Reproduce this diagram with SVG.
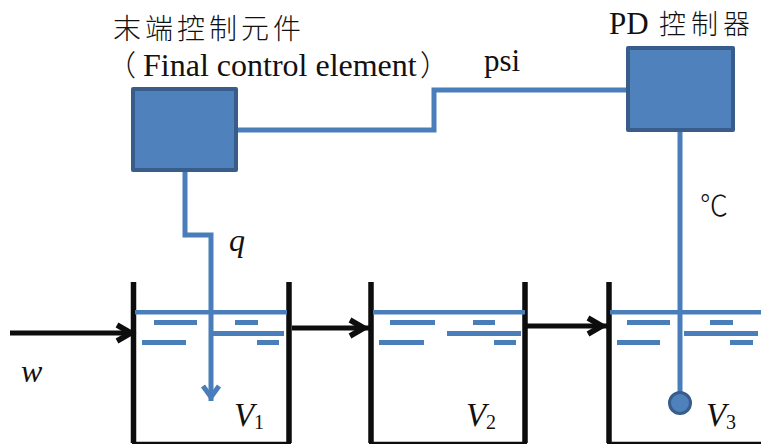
<svg xmlns="http://www.w3.org/2000/svg" width="761" height="444" viewBox="0 0 761 444">
<style>
.t{font-family:"Liberation Serif","Noto Sans CJK TC",serif;fill:#111}
.c{font-family:"Noto Sans CJK TC","Liberation Serif",sans-serif;fill:#111;font-weight:300}
.i{font-style:italic}
.box{fill:#4f81bd;stroke:#385d8a;stroke-width:4;stroke-linejoin:round}
.wire{fill:none;stroke:#4a7ebb;stroke-width:5}
.wall{fill:none;stroke:#0d0d0d;stroke-width:5.5}
.floor{fill:none;stroke:#0d0d0d;stroke-width:2.5}
.flow{fill:none;stroke:#0d0d0d;stroke-width:5}
.w{fill:#4a7ebb}
</style>
<defs>
<marker id="ah" markerUnits="userSpaceOnUse" markerWidth="28" markerHeight="28" refX="22" refY="14" orient="auto"><path d="M3 6 L17 14 L3 22" fill="none" stroke="#0d0d0d" stroke-width="5.5"/></marker>
<marker id="ab" markerUnits="userSpaceOnUse" markerWidth="28" markerHeight="28" refX="19" refY="14" orient="auto"><path d="M4 6 L15 14 L4 22" fill="none" stroke="#4a7ebb" stroke-width="5"/></marker>
</defs>
<g id="tank1">
<path class="wall" d="M133.500 282V443M289 282V443"/><path class="floor" d="M132 443H291"/>
<g class="w"><rect x="135" y="310" width="152" height="4.500"/><rect x="154" y="320" width="43" height="5"/><rect x="235" y="320" width="23" height="5"/><rect x="213" y="331" width="71" height="5"/><rect x="142" y="340" width="44" height="5"/><rect x="257" y="340" width="22" height="5"/></g>
<text class="t i" x="234" y="426" font-size="33">V</text><text class="t" x="254" y="429" font-size="20">1</text>
</g>
<g id="tank2">
<path class="wall" d="M371 282V443M525 282V443"/><path class="floor" d="M369 443H527"/>
<g class="w"><rect x="373" y="310" width="152" height="4.500"/><rect x="390" y="320" width="45" height="5"/><rect x="473" y="320" width="22" height="5"/><rect x="447" y="331" width="74" height="5"/><rect x="379" y="340" width="45" height="5"/><rect x="494" y="340" width="22" height="5"/></g>
<text class="t i" x="466" y="426" font-size="33">V</text><text class="t" x="486" y="429" font-size="20">2</text>
</g>
<g id="tank3">
<path class="wall" d="M609 282V443"/><path class="floor" d="M607 443H761"/>
<g class="w"><rect x="610" y="310" width="151" height="4.500"/><rect x="627" y="320" width="43" height="5"/><rect x="710" y="320" width="23" height="5"/><rect x="684" y="331" width="74" height="5"/><rect x="617" y="340" width="43" height="5"/><rect x="730" y="340" width="23" height="5"/></g>
<text class="t i" x="706" y="426" font-size="33">V</text><text class="t" x="726" y="429" font-size="20">3</text>
</g>
<g id="connectors">
<path class="wire" d="M237 130H434V90H627"/>
<path class="wire" d="M185 171V235H211V401" marker-end="url(#ab)"/>
<path class="wire" d="M680 131V395"/>
<path class="flow" d="M10 333H136" marker-end="url(#ah)"/>
<path class="flow" d="M292 328H369" marker-end="url(#ah)"/>
<path class="flow" d="M527 326H607" marker-end="url(#ah)"/>
</g>
<g id="final-control-element">
<rect class="box" x="133" y="89" width="103" height="81"/>
<text class="c" x="113" y="39" font-size="28" letter-spacing="4">末端控制元件</text>
<text class="c" x="107" y="76" font-size="29">（</text>
<text class="t" x="143" y="76" font-size="32">Final control element</text>
<text class="c" x="420" y="76" font-size="29">）</text>
</g>
<g id="pd-controller">
<rect class="box" x="628" y="48" width="105" height="82"/>
<text class="t" x="609" y="34" font-size="31">PD</text>
<text class="c" x="659" y="34" font-size="27" letter-spacing="5">控制器</text>
</g>
<g id="sensor-bulb"><circle cx="680" cy="403" r="10.500" fill="#4f81bd" stroke="#385d8a" stroke-width="3"/></g>
<text class="t" x="484" y="71" font-size="31">psi</text>
<text class="c" x="700" y="216" font-size="28">℃</text>
<text class="t i" x="229" y="251" font-size="32">q</text>
<text class="t i" x="21" y="382" font-size="32">w</text>
</svg>
